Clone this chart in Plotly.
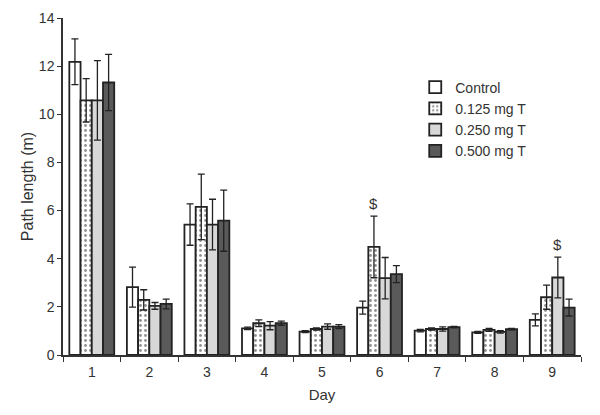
import plotly.graph_objects as go

days = ["1", "2", "3", "4", "5", "6", "7", "8", "9"]
series_names = ["Control", "0.125 mg T", "0.250 mg T", "0.500 mg T"]

control = [12.18, 2.82, 5.42, 1.11, 0.97, 1.97, 1.01, 0.94, 1.46]
control_err = [0.95, 0.83, 0.86, 0.05, 0.04, 0.27, 0.05, 0.04, 0.25]
t125 = [10.58, 2.29, 6.15, 1.32, 1.08, 4.49, 1.08, 1.04, 2.40]
t125_err = [0.90, 0.42, 1.36, 0.14, 0.05, 1.28, 0.05, 0.06, 0.50]
t250 = [10.58, 2.04, 5.42, 1.22, 1.18, 3.19, 1.08, 0.96, 3.22]
t250_err = [1.65, 0.14, 1.05, 0.17, 0.11, 0.86, 0.09, 0.05, 0.85]
t500 = [11.32, 2.12, 5.58, 1.32, 1.18, 3.36, 1.16, 1.07, 1.97]
t500_err = [1.17, 0.20, 1.27, 0.09, 0.08, 0.35, 0.03, 0.03, 0.35]

# significance marks: (day index, series index)
sig_marks = [(5, 1), (8, 2)]
sig_symbol = "$"

values = [control, t125, t250, t500]
errors = [control_err, t125_err, t250_err, t500_err]

fills = ["white", "white", "#d8d8d8", "#5a5a5a"]
patterns = ["", ".", "", ""]

fig = go.Figure()
for name, v, e, fc, pat in zip(series_names, values, errors, fills, patterns):
    marker = dict(color=fc, line=dict(color="#222222", width=1.8))
    if pat:
        marker["pattern"] = dict(shape=pat, fgcolor="#222222", bgcolor="white",
                                 size=5, solidity=0.25)
    fig.add_trace(go.Bar(
        x=days, y=v, name=name, marker=marker,
        error_y=dict(type="data", array=e, visible=True, color="#222222",
                     thickness=1.3, width=3.5),
    ))

bargap = 0.22
nser = len(series_names)
bw = (1 - bargap) / nser
for di, si in sig_marks:
    xpos = di - (1 - bargap) / 2 + bw * (si + 0.5)
    ytop = values[si][di] + errors[si][di]
    fig.add_annotation(x=xpos, y=ytop, text=sig_symbol, showarrow=False,
                       yanchor="bottom", yshift=2,
                       font=dict(size=15, color="#333333"))

fig.update_layout(
    width=600, height=415,
    margin=dict(l=55, r=27, t=10, b=68),
    paper_bgcolor="white", plot_bgcolor="white",
    barmode="group", bargap=bargap, bargroupgap=0,
    font=dict(family="Liberation Sans, Arial, sans-serif", size=14, color="#333333"),
    showlegend=True,
    legend=dict(x=0.68, y=0.841, xanchor="left", yanchor="top",
                bgcolor="rgba(0,0,0,0)", font=dict(size=14, color="#333333"),
                itemwidth=30, tracegroupgap=2),
)
fig.update_xaxes(
    type="category", showline=True, linecolor="#333333", linewidth=1.5,
    ticks="outside", tickson="boundaries", ticklen=5, tickcolor="#333333",
    showgrid=False, automargin=False, tickfont=dict(size=14),
    ticklabelstandoff=3,
    title=dict(text="Day", standoff=11, font=dict(size=15)),
)
fig.update_yaxes(
    range=[0, 14], dtick=2, showline=True, linecolor="#333333", linewidth=1.5,
    ticks="outside", ticklen=4, tickcolor="#333333", showgrid=False,
    zeroline=False, automargin=False, tickfont=dict(size=14),
    title=dict(text="Path length (m)", standoff=1, font=dict(size=16)),
)

fig.write_html("out.html")
